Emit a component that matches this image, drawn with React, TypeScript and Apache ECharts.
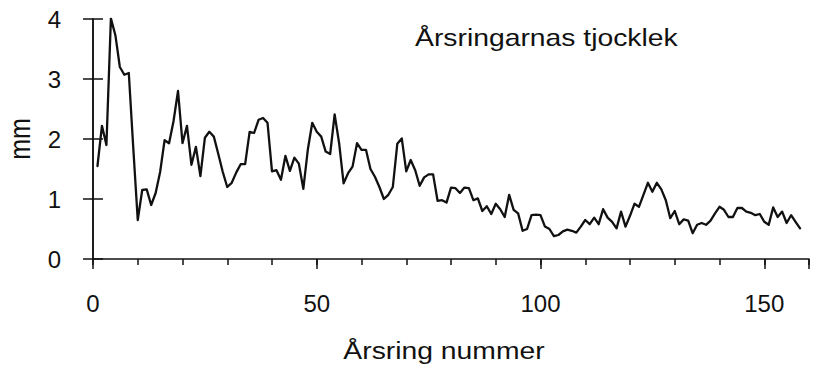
import React, { useEffect, useRef } from "react";
import * as echarts from "echarts";

// Ring thickness (mm) for ring numbers 1..158
const firstRing = 1;
const thickness: number[] = [
  1.55, 2.22, 1.9, 4.01, 3.73, 3.2, 3.07, 3.1, 1.85, 0.65,
  1.15, 1.16, 0.9, 1.1, 1.45, 1.98, 1.93, 2.3, 2.8, 1.93,
  2.22, 1.57, 1.87, 1.38, 2.02, 2.12, 2.04, 1.75, 1.45, 1.2,
  1.27, 1.44, 1.58, 1.58, 2.12, 2.1, 2.32, 2.35, 2.27, 1.46,
  1.48, 1.32, 1.72, 1.47, 1.69, 1.59, 1.17, 1.82, 2.27, 2.12,
  2.04, 1.79, 1.75, 2.41, 1.93, 1.26, 1.43, 1.54, 1.93, 1.82,
  1.82, 1.5, 1.37, 1.2, 1.0, 1.07, 1.2, 1.92, 2.01, 1.46,
  1.65, 1.48, 1.22, 1.36, 1.41, 1.41, 0.97, 0.98, 0.94, 1.19,
  1.18, 1.1, 1.19, 1.18, 0.98, 1.01, 0.8, 0.88, 0.75, 0.92,
  0.83, 0.7, 1.07, 0.82, 0.76, 0.47, 0.5, 0.73, 0.74, 0.73,
  0.54, 0.5, 0.38, 0.4, 0.46, 0.49, 0.47, 0.44, 0.54, 0.65,
  0.58, 0.69, 0.58, 0.83, 0.69, 0.62, 0.51, 0.79, 0.54, 0.72,
  0.92, 0.87, 1.07, 1.27, 1.12, 1.27, 1.16, 0.98, 0.68, 0.8,
  0.58, 0.66, 0.64, 0.43, 0.57, 0.6, 0.57, 0.64, 0.76, 0.87,
  0.82, 0.7, 0.7, 0.85, 0.85, 0.79, 0.77, 0.73, 0.75, 0.62,
  0.57, 0.86, 0.7, 0.79, 0.6, 0.73, 0.62, 0.51,
];

const xMin = 0;
const xMax = 160;
const xMinorStep = 10;
const xMajorStep = 50;
const yMin = 0;
const yMax = 4;
const yStep = 1;

const titleText = "Årsringarnas tjocklek";
const xTitle = "Årsring nummer";
const yTitle = "mm";

const FONT = "'Liberation Sans', Arial, sans-serif";

export default function App() {
  const ref = useRef<HTMLDivElement>(null);
  useEffect(() => {
    if (!ref.current) return;
    const chart = echarts.init(ref.current, undefined, { renderer: "svg" });
    const data = thickness.map((v, i) => [firstRing + i, v]);
    const axisLineStyle = { color: "#111", width: 1.5 };
    chart.setOption({
      animation: false,
      backgroundColor: "#ffffff",
      grid: { left: 93, right: 10, top: 19, bottom: 110, containLabel: false },
      xAxis: [
        {
          type: "value",
          position: "bottom",
          min: xMin,
          max: xMax,
          interval: xMinorStep,
          axisLine: { show: true, lineStyle: axisLineStyle },
          axisTick: { show: true, length: 6, lineStyle: axisLineStyle },
          splitLine: { show: false },
          axisLabel: {
            show: true,
            margin: 32,
            fontSize: 24,
            color: "#111",
            fontFamily: FONT,
            formatter: (v: number) => (v % xMajorStep === 0 ? String(v) : ""),
          },
        },
        {
          type: "value",
          position: "bottom",
          min: xMin,
          max: xMax,
          interval: xMajorStep,
          axisLine: { show: false },
          axisTick: { show: true, length: 10, lineStyle: axisLineStyle },
          splitLine: { show: false },
          axisLabel: { show: false },
        },
      ],
      yAxis: [
        {
          type: "value",
          position: "left",
          min: yMin,
          max: yMax,
          interval: yStep,
          axisLine: { show: true, lineStyle: axisLineStyle },
          axisTick: { show: true, length: 10, lineStyle: axisLineStyle },
          splitLine: { show: false },
          axisLabel: {
            margin: 32,
            fontSize: 24,
            color: "#111",
            fontFamily: FONT,
          },
        },
        {
          type: "value",
          position: "right",
          min: yMin,
          max: yMax,
          interval: yStep,
          axisLine: { show: true, lineStyle: axisLineStyle },
          axisTick: { show: true, length: 10, lineStyle: axisLineStyle },
          splitLine: { show: false },
          axisLabel: { show: false },
        },
      ],
      series: [
        {
          type: "line",
          xAxisIndex: 0,
          yAxisIndex: 0,
          data,
          showSymbol: false,
          symbol: "none",
          lineStyle: { color: "#111", width: 2.3, join: "round", cap: "round" },
          silent: true,
        },
      ],
      graphic: [
        {
          type: "text",
          x: 415,
          y: 38,
          scaleX: 1.18,
          style: {
            text: titleText,
            font: `24px ${FONT}`,
            fill: "#111",
            align: "left",
            verticalAlign: "middle",
          },
        },
        {
          type: "text",
          x: 444,
          y: 351,
          scaleX: 1.18,
          style: {
            text: xTitle,
            font: `24px ${FONT}`,
            fill: "#111",
            align: "center",
            verticalAlign: "middle",
          },
        },
        {
          type: "text",
          x: 20,
          y: 139,
          rotation: Math.PI / 2,
          scaleY: 1.18,
          style: {
            text: yTitle,
            font: `25px ${FONT}`,
            fill: "#111",
            align: "center",
            verticalAlign: "middle",
          },
        },
      ],
    });
    return () => chart.dispose();
  }, []);
  return (
    <div
      ref={ref}
      style={{ position: "fixed", left: 0, top: 0, width: 819, height: 369 }}
    />
  );
}
